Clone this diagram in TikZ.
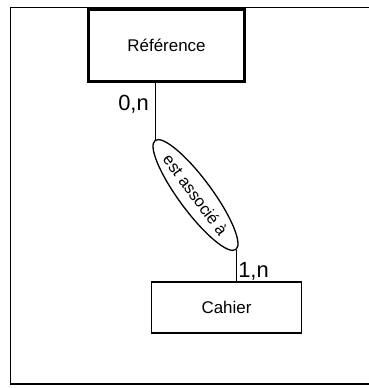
\documentclass[tikz,border=0pt]{standalone}
\usepackage{fontspec}
\setmainfont{Liberation Sans}
\usetikzlibrary{shapes.geometric}
\begin{document}
\begin{tikzpicture}[x=1bp, y=-1bp,
		entity/.style={draw, rectangle, inner sep=0pt, font=\fontsize{17}{20}\selectfont},
		card/.style={inner sep=0pt, anchor=base, font=\fontsize{22}{24}\selectfont}]
		\useasboundingbox (0, 0) rectangle (369, 388);
		\draw[line width=1.5bp] (369, 7.5) -- (10.5, 7.5) -- (10.5, 384) -- (369, 384);

		\node[entity, line width=3bp, minimum width=156bp, minimum height=72bp] (ref) at (166.5, 45.5) {Référence};
		\node[entity, line width=1.2bp, minimum width=150bp, minimum height=51bp] (cahier) at (226.5, 307.5) {Cahier};
		\node[draw, ellipse, line width=1.3bp, rotate=-53.5, minimum width=119bp, minimum height=33bp, inner sep=0pt, font=\fontsize{16.5}{18}\selectfont] (assoc) at (195.5, 195) {est associé à};

		\draw (assoc.west) -- (assoc.west |- ref.south);
		\draw (assoc.east) -- (assoc.east |- cahier.north);

		\node[card] (refcard) at (133.5, 110) {0,n};
		\node[card] (cahiercard) at (253.5, 277) {1,n};

	\end{tikzpicture}
\end{document}
